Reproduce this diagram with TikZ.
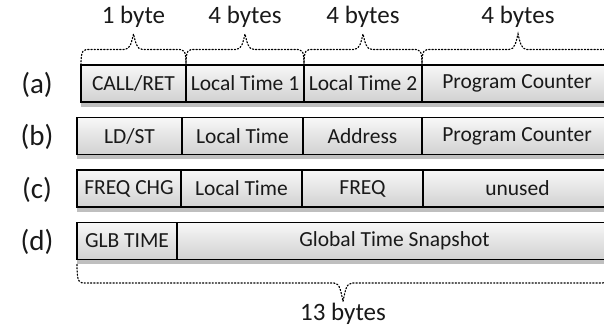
\documentclass[tikz,border=0pt]{standalone}
\usepackage{fontspec}
\setmainfont{Carlito}
\usetikzlibrary{positioning,calc}
\colorlet{ledge}{gray!50}
\colorlet{inkx}{black!90}
\newcommand{\fieldfont}{\fontsize{21.5}{24}\selectfont}
\newcommand{\tagfont}{\fontsize{25}{28}\selectfont}
\newcommand{\rowfont}{\fontsize{29}{32}\selectfont}
\tikzset{
    field/.style={draw,line width=1.6pt,top color=gray!6,bottom color=gray!36,
        minimum height=37pt,inner sep=0pt,outer sep=0pt,anchor=north west,
        font=\fieldfont,text=inkx},
    sizetag/.style={font=\tagfont,inner sep=0pt,text=inkx},
    rowtag/.style={font=\rowfont,inner sep=0pt,text=inkx},
    bracedots/.style={line width=1.2pt,dotted,line cap=round}
}
% curly brace from #1 to #2 (west to east), #3 = rise of the tip
\newcommand{\bytebrace}[3]{%
    \pgfmathsetmacro\halfrise{0.5*#3}
    \pgfmathsetmacro\nearrise{0.75*#3}
    \draw [bracedots] (#1)
        .. controls +(0,\halfrise) and +(-7,0) .. ($(#1)+(9,\halfrise)$)
        -- ($(#1)!.5!(#2)+(-9,\halfrise)$)
        .. controls +(6,0) and ($(#1)!.5!(#2)+(-2,\nearrise)$) .. ($(#1)!.5!(#2)+(0,#3)$)
        .. controls ($(#1)!.5!(#2)+(2,\nearrise)$) and +(-6,0) .. ($(#1)!.5!(#2)+(9,\halfrise)$)
        -- ($(#2)+(-9,\halfrise)$)
        .. controls +(7,0) and +(0,\halfrise) .. (#2);
}

\begin{document}
\begin{tikzpicture}[x=1pt,y=-1pt]
    \useasboundingbox (0,0) rectangle (604,328);
    \clip (0,0) rectangle (604,328);

    % (a)
    \node [field,minimum width=105pt] (a1) at (81,65) {CALL/RET};
    \node [field,minimum width=118pt,right=0pt of a1] (a2) {Local Time 1};
    \node [field,minimum width=118pt,right=0pt of a2] (a3) {Local Time 2};
    \node [field,minimum width=190pt,right=0pt of a3] (a4) {Program Counter};
    % (b)
    \node [field,minimum width=105pt] (b1) at (77,117.5) {LD/ST};
    \node [field,minimum width=121pt,right=0pt of b1] (b2) {Local Time};
    \node [field,minimum width=119pt,right=0pt of b2] (b3) {Address};
    \node [field,minimum width=190pt,right=0pt of b3] (b4) {Program Counter};
    % (c)
    \node [field,minimum width=104pt] (c1) at (77,170) {FREQ CHG};
    \node [field,minimum width=121pt,right=0pt of c1] (c2) {Local Time};
    \node [field,minimum width=121pt,right=0pt of c2] (c3) {FREQ};
    \node [field,minimum width=189pt,right=0pt of c3] (c4) {unused};
    % (d)
    \node [field,minimum width=100pt] (d1) at (77,222.5) {GLB TIME};
    \node [field,minimum width=435pt,right=0pt of d1] (d2) {Global Time Snapshot};

    \foreach \r/\last in {a/4,b/4,c/4,d/2} {
        \fill [ledge] ([yshift=-0.8pt]\r1.south west) rectangle ([yshift=-5pt]\r\last.south east);
    }

    \node [rowtag] (ta) at (37,85) {(a)};
    \node [rowtag] (tb) at (37,137) {(b)};
    \node [rowtag] (tc) at (37,189.5) {(c)};
    \node [rowtag] (td) at (37,242) {(d)};

    % byte counts
    \coordinate (aend) at (614,65);
    \coordinate (dfoot) at ([yshift=-5pt]d1.south west);
    \coordinate (dend) at (609,264.5);
    \bytebrace{a1.north west}{a1.north east}{-31}
    \bytebrace{a2.north west}{a2.north east}{-31}
    \bytebrace{a3.north west}{a3.north east}{-31}
    \bytebrace{a4.north west}{aend}{-31}
    \bytebrace{dfoot}{dend}{37}

    \node [sizetag] (s1) at (133.5,17) {1 byte};
    \node [sizetag] (s2) at (245,17) {4 bytes};
    \node [sizetag] (s3) at (363,17) {4 bytes};
    \node [sizetag] (s4) at (518,17) {4 bytes};
    \node [sizetag] (s13) at (343,314) {13 bytes};
\end{tikzpicture}
\end{document}
